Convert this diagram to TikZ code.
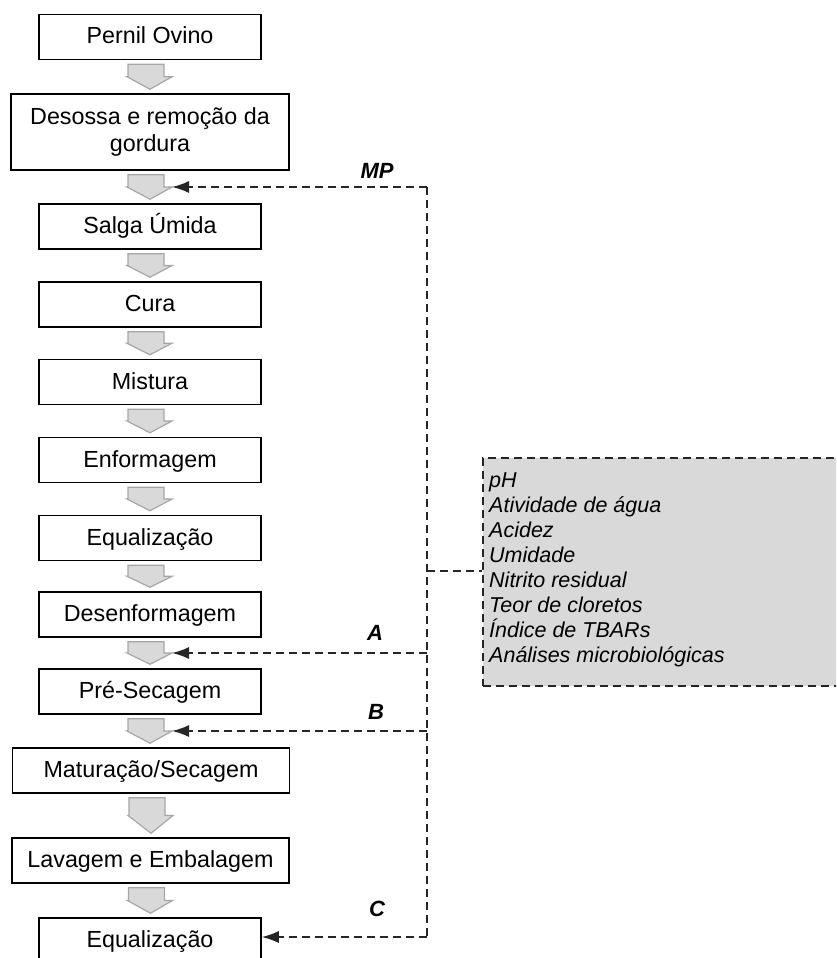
\documentclass[tikz,border=0pt]{standalone}
\usepackage{fontspec}
\setmainfont{Liberation Sans}
\usetikzlibrary{arrows.meta}
\usetikzlibrary{calc}
\tikzset {
  % process step
  box/.style = {
    draw = black,
    line width = 1.5pt,
    inner sep = 0,
    font = \fontsize{23.3}{27}\selectfont
  },
  stepbox/.style = {
    box,
    minimum width = 222pt,
    minimum height = 45pt,
    text height = 18pt,
    text depth = 4pt
  },
  widebox/.style = {
    stepbox,
    minimum width = 277pt
  },
  % gray block arrow between two steps
  flow arrow/.style = {
    fill = black!15,
    draw = black!35,
    line width = 1.2pt
  },
  % sampling points
  sample line/.style = {
    draw = black!85,
    line width = 1.6pt,
    dash pattern = on 8pt off 5pt
  },
  sample arrow/.style = {
    sample line,
    -{Latex[length=17pt, width=12pt]}
  },
  sample label/.style = {
    font = \fontsize{22}{26}\selectfont\bfseries\itshape,
    inner sep = 0,
    anchor = base
  },
  analysis box/.style = {
    sample line,
    fill = black!15,
    anchor = north west,
    inner sep = 0
  },
  analysis item/.style = {
    font = \fontsize{21.5}{25}\selectfont\itshape,
    inner sep = 0,
    anchor = base west
  }
}
% block arrow from #1 down to #2, #3 = right corner of the head
\newcommand{\flowarrow}[3]{%
  \filldraw[flow arrow] let \p1 = (#1.south), \p2 = (#2.north),
    \n1 = {(\y1 - \y2 - 8pt)/2} in
    (\x1-22pt, \y1-4pt) -- (\x1+14pt, \y1-4pt)
    -- (\x1+14pt, \y1-4pt-\n1) -- (\x1+22pt, \y1-4pt-\n1) coordinate (#3)
    -- (\x1, \y2+4pt) -- (\x1-23pt, \y1-4pt-\n1)
    -- (\x1-22pt, \y1-4pt-\n1) -- cycle;
}

\begin{document}
\begin{tikzpicture}[x=1pt, y=-1pt]
  \clip (0,0) rectangle (836,958);

  \node[stepbox] at (150, 37) (pernil) {Pernil Ovino};
  \node[box, minimum width = 278pt, minimum height = 76pt, align = center]
    at (150, 132) (desossa) {Desossa e remoção da\\gordura};
  \node[stepbox] at (150, 226.5) (salga) {Salga Úmida};
  \node[stepbox] at (150, 304.5) (cura) {Cura};
  \node[stepbox] at (150, 382) (mistura) {Mistura};
  \node[stepbox] at (150, 460) (enform) {Enformagem};
  \node[stepbox] at (150, 538) (equal) {Equalização};
  \node[stepbox] at (150, 614.5) (desenf) {Desenformagem};
  \node[stepbox] at (150, 691.5) (presec) {Pré-Secagem};
  \node[widebox] at (151, 770.5) (matur) {Maturação/Secagem};
  \node[widebox] at (150.5, 860.5) (lavag) {Lavagem e Embalagem};
  \node[stepbox] at (150, 940.5) (equalfim) {Equalização};

  \flowarrow{pernil}{desossa}{h1}
  \flowarrow{desossa}{salga}{inMP}
  \flowarrow{salga}{cura}{h3}
  \flowarrow{cura}{mistura}{h4}
  \flowarrow{mistura}{enform}{h5}
  \flowarrow{enform}{equal}{h6}
  \flowarrow{equal}{desenf}{h7}
  \flowarrow{desenf}{presec}{inA}
  \flowarrow{presec}{matur}{inB}
  \flowarrow{matur}{lavag}{h10}
  \flowarrow{lavag}{equalfim}{h11}

  % analyses
  \node[analysis box, minimum width = 380pt, minimum height = 228pt]
    at (482, 457) (checks) {};
  \foreach \txt [count = \i from 0] in {pH, Atividade de água, Acidez,
      Umidade, Nitrito residual, Teor de cloretos, Índice de TBARs,
      Análises microbiológicas}
    \node[analysis item] at (489, {487 + 25*\i}) (item\i) {\txt};

  \coordinate (bus) at (427, 0);
  \coordinate (inC) at ([yshift=3.5pt]equalfim.east);
  \coordinate (link) at (427, 571);

  \draw[sample line] (inMP -| bus) -- (inC -| bus);
  \draw[sample line] (link) -- (link -| checks.west);
  \draw[sample arrow] (inMP -| bus) -- (inMP);
  \draw[sample arrow] (inA -| bus) -- (inA);
  \draw[sample arrow] (inB -| bus) -- (inB);
  \draw[sample arrow] (inC -| bus) -- (inC);

  \node[sample label] at (377, 178) (lblMP) {MP};
  \node[sample label] at (375, 640) (lblA) {A};
  \node[sample label] at (376, 719) (lblB) {B};
  \node[sample label] at (377, 916) (lblC) {C};
\end{tikzpicture}
\end{document}
